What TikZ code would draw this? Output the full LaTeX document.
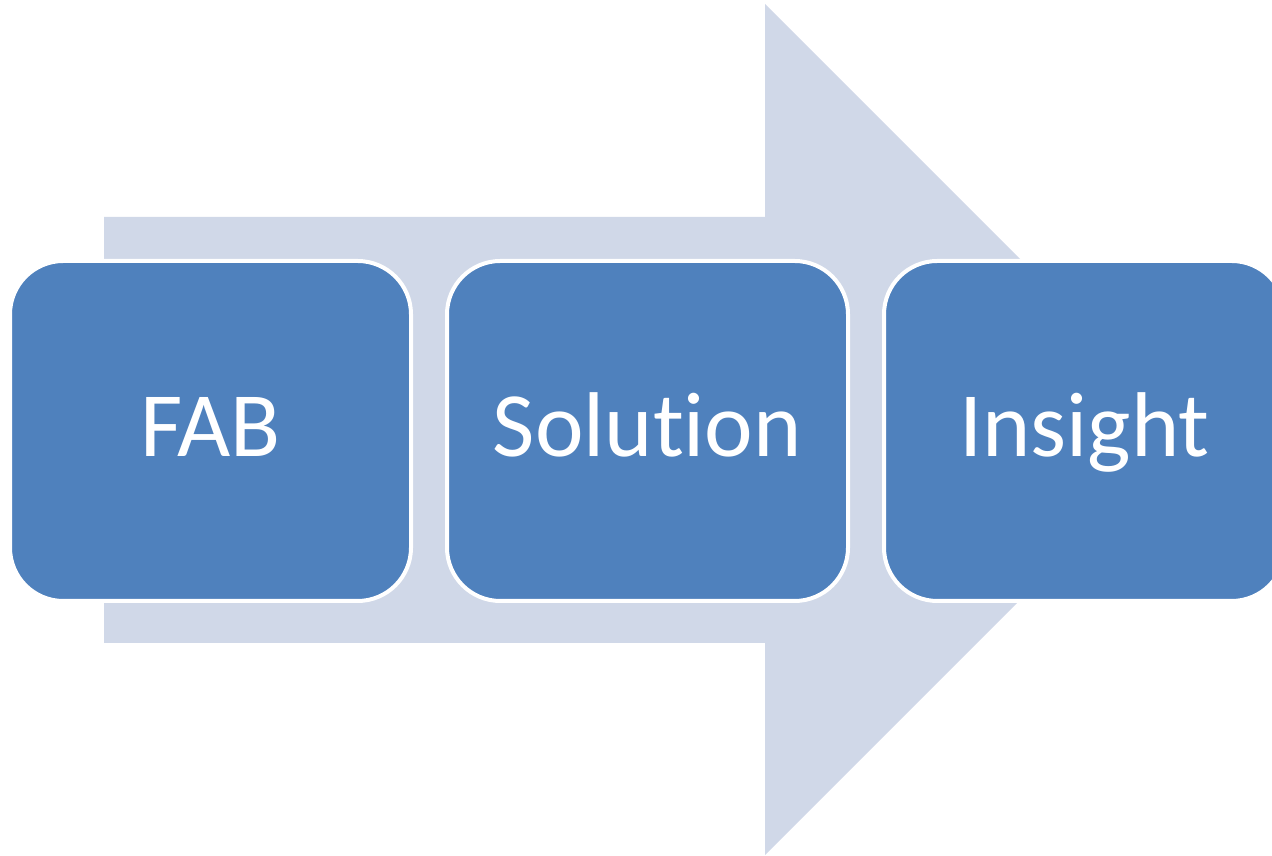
\documentclass[tikz,border=0pt]{standalone}
\usepackage{fontspec}
\setmainfont{Carlito}[Ligatures=NoCommon]
\usepackage{tikz}
\usetikzlibrary{positioning}
\definecolor{StepBlue}{HTML}{4F81BD}
\definecolor{ArrowGrey}{HTML}{D0D8E8}

\tikzset{
  stepbox/.style={draw=white,line width=3pt,fill=StepBlue,rounded corners=40pt,
    minimum width=300.75pt,minimum height=255pt,inner sep=0pt,
    text=white,font=\fontsize{69}{80}\selectfont,text height=44pt,text depth=5pt}
}

\begin{document}
\begin{tikzpicture}[x=0.75pt,y=0.75pt]
  \useasboundingbox (0,0) rectangle (1272,856);
  % big arrow behind the steps
  \fill[ArrowGrey] (104,213)--(104,639)--(765,639)--(765,852)--(1190.5,426.5)
    --(765,1)--(765,213)--cycle;
  % the three steps
  \node[stepbox] (fab) at (210.5,425) {FAB};
  \node[stepbox,right=24pt of fab] (solution) {Solution};
  \node[stepbox,right=24pt of solution] (insight) {Insight};
\end{tikzpicture}
\end{document}
